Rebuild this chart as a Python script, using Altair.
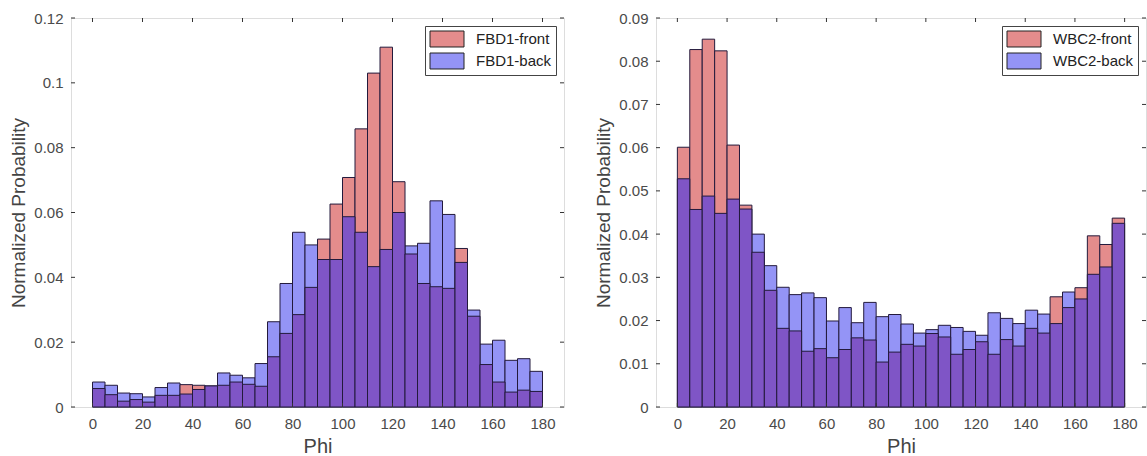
import altair as alt
import pandas as pd

# bin left edges (bin width 5 degrees)
bin_starts = [0, 5, 10, 15, 20, 25, 30, 35, 40, 45, 50, 55, 60, 65, 70, 75, 80, 85,
              90, 95, 100, 105, 110, 115, 120, 125, 130, 135, 140, 145, 150, 155, 160, 165, 170, 175]
bin_width = 5

fbd1_front = [0.0057, 0.0038, 0.0018, 0.0023, 0.0015, 0.0036, 0.0036, 0.0069, 0.0067, 0.0065,
              0.0067, 0.0077, 0.0070, 0.0064, 0.0155, 0.0227, 0.0285, 0.0369, 0.0518, 0.0626,
              0.0708, 0.0858, 0.1030, 0.1110, 0.0695, 0.0472, 0.0381, 0.0371, 0.0366, 0.0489,
              0.0280, 0.0131, 0.0077, 0.0046, 0.0052, 0.0048]
fbd1_back = [0.0077, 0.0067, 0.0043, 0.0041, 0.0031, 0.0060, 0.0074, 0.0040, 0.0054, 0.0065,
             0.0105, 0.0098, 0.0090, 0.0134, 0.0263, 0.0381, 0.0539, 0.0500, 0.0455, 0.0455,
             0.0587, 0.0539, 0.0433, 0.0486, 0.0600, 0.0497, 0.0505, 0.0636, 0.0594, 0.0446,
             0.0299, 0.0194, 0.0206, 0.0144, 0.0149, 0.0110]

wbc2_front = [0.0601, 0.0827, 0.0851, 0.0824, 0.0606, 0.0467, 0.0358, 0.0270, 0.0182, 0.0176,
              0.0129, 0.0135, 0.0114, 0.0133, 0.0160, 0.0155, 0.0104, 0.0127, 0.0145, 0.0141,
              0.0170, 0.0162, 0.0122, 0.0133, 0.0151, 0.0122, 0.0156, 0.0141, 0.0182, 0.0171,
              0.0255, 0.0230, 0.0276, 0.0396, 0.0376, 0.0437]
wbc2_back = [0.0528, 0.0457, 0.0488, 0.0448, 0.0481, 0.0458, 0.0400, 0.0327, 0.0277, 0.0260,
             0.0264, 0.0253, 0.0199, 0.0230, 0.0195, 0.0242, 0.0209, 0.0214, 0.0192, 0.0171,
             0.0179, 0.0189, 0.0184, 0.0175, 0.0166, 0.0218, 0.0205, 0.0193, 0.0224, 0.0215,
             0.0193, 0.0266, 0.0250, 0.0307, 0.0324, 0.0425]

x_ticks = [0, 20, 40, 60, 80, 100, 120, 140, 160, 180]
y_ticks_left = [0, 0.02, 0.04, 0.06, 0.08, 0.1, 0.12]
y_ticks_right = [0, 0.01, 0.02, 0.03, 0.04, 0.05, 0.06, 0.07, 0.08, 0.09]

RED = "#e48c8c"
BLUE = "#9494f6"
PURPLE = "#7f55c6"
EDGE = "#231a3c"
FONT = "Liberation Sans"
LABEL_COLOR = "#4a4a4a"
TITLE_COLOR = "#444444"
HEIGHT = 389
X_DOMAIN = [-8.6, 188.6]


def panel(front, back, names, ymax, yticks, width):
    rows = []
    for s, f, b in zip(bin_starts, front, back):
        rows.append({
            "start": s, "end": s + bin_width, "zero": 0.0,
            "top": max(f, b), "bottom": min(f, b),
            "series": names[0] if f >= b else names[1],
        })
    df = pd.DataFrame(rows)
    xs = alt.Scale(domain=X_DOMAIN, nice=False, zero=False)
    ys = alt.Scale(domain=[0, ymax], nice=False, zero=True)

    x_axis = alt.Axis(values=x_ticks, ticks=False, domain=False, grid=False,
                      labelFontSize=15, labelPadding=9, labelColor=LABEL_COLOR, labelFont=FONT,
                      title="Phi", titleFontSize=20, titleFontWeight="normal", titleColor=TITLE_COLOR,
                      titleFont=FONT, titlePadding=5)
    y_axis = alt.Axis(values=yticks, ticks=False, domain=False, grid=False,
                      labelExpr="format(datum.value, '.2~f')",
                      labelFontSize=15, labelPadding=8, labelColor=LABEL_COLOR, labelFont=FONT,
                      minExtent=38, maxExtent=38,
                      title="Normalized Probability", titleFontSize=19, titleFontWeight="normal",
                      titleColor=TITLE_COLOR, titleFont=FONT, titlePadding=5)

    legend = alt.Legend(
        title=None, orient="top-right", offset=8, padding=4, rowPadding=2,
        symbolType="M-2,-0.94H2V0.94H-2Z", symbolSize=289, symbolOffset=9,
        symbolStrokeColor="#222222", symbolStrokeWidth=1, symbolOpacity=1,
        labelFontSize=15, labelFont=FONT, labelColor="#222222", labelOffset=20,
        strokeColor="#444444", fillColor="white", cornerRadius=0,
    )

    top = alt.Chart(df).mark_bar(stroke=EDGE, strokeWidth=1, opacity=1).encode(
        x=alt.X("start:Q", scale=xs, axis=x_axis),
        x2="end:Q",
        y=alt.Y("top:Q", scale=ys, axis=y_axis),
        y2="zero:Q",
        color=alt.Color("series:N", scale=alt.Scale(domain=names, range=[RED, BLUE]), legend=legend),
    )
    bottom = alt.Chart(df).mark_bar(stroke=EDGE, strokeWidth=1, opacity=1, color=PURPLE).encode(
        x=alt.X("start:Q", scale=xs, axis=x_axis),
        x2="end:Q",
        y=alt.Y("bottom:Q", scale=ys, axis=y_axis),
        y2="zero:Q",
    )

    xt = pd.DataFrame({"t": x_ticks})
    yt = pd.DataFrame({"t": yticks})
    tick_style = dict(color="#333333", strokeWidth=1)
    xb = alt.Chart(xt).mark_rule(**tick_style).encode(
        x=alt.X("t:Q", scale=xs, axis=x_axis), y=alt.value(HEIGHT), y2=alt.value(HEIGHT - 4))
    xtop = alt.Chart(xt).mark_rule(**tick_style).encode(
        x=alt.X("t:Q", scale=xs, axis=x_axis), y=alt.value(0), y2=alt.value(4))
    yl = alt.Chart(yt).mark_rule(**tick_style).encode(
        y=alt.Y("t:Q", scale=ys, axis=y_axis), x=alt.value(0), x2=alt.value(4))
    yr = alt.Chart(yt).mark_rule(**tick_style).encode(
        y=alt.Y("t:Q", scale=ys, axis=y_axis), x=alt.value(width), x2=alt.value(width - 4))

    return alt.layer(top, bottom, xb, xtop, yl, yr).properties(width=width, height=HEIGHT)


left = panel(fbd1_front, fbd1_back, ["FBD1-front", "FBD1-back"], 0.12, y_ticks_left, 493)
right = panel(wbc2_front, wbc2_back, ["WBC2-front", "WBC2-back"], 0.09, y_ticks_right, 490)

chart = alt.hconcat(left, right, spacing=28).resolve_scale(color="independent").properties(
    padding={"left": 8, "top": 10, "right": 0, "bottom": 0}
).configure_view(stroke="#555555", strokeWidth=1).configure(background="white")

chart.save("out.html", embed_options={"renderer": "svg", "actions": False})
